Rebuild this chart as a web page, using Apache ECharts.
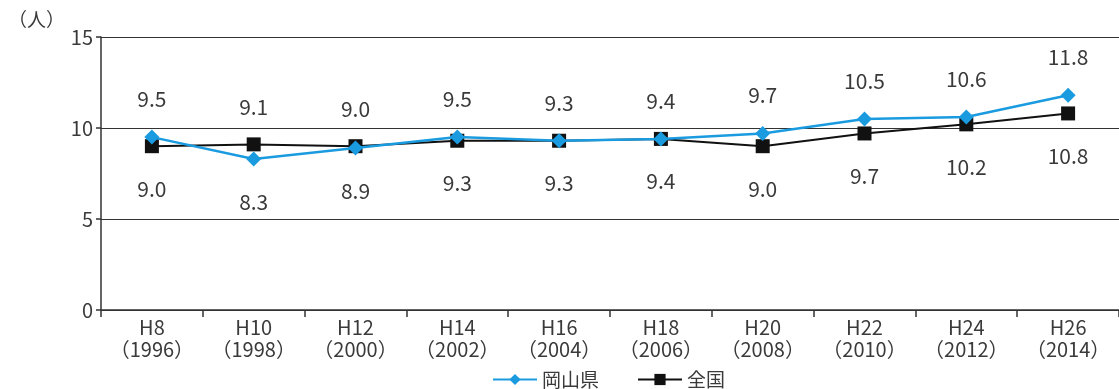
<!DOCTYPE html>
<html>
<head>
<meta charset="utf-8">
<script src="https://cdn.jsdelivr.net/npm/echarts@6/dist/echarts.min.js"></script>
<style>
  html, body { margin: 0; padding: 0; background: #fff; }
  #chart { width: 1119px; height: 389px; }
</style>
</head>
<body>
<div id="chart"></div>
<script>
// Era labels and Western years for each survey
const eras = ['H8', 'H10', 'H12', 'H14', 'H16', 'H18', 'H20', 'H22', 'H24', 'H26'];
const years = ['1996', '1998', '2000', '2002', '2004', '2006', '2008', '2010', '2012', '2014'];

// Values per survey year (人)
const okayama = [9.5, 8.3, 8.9, 9.5, 9.3, 9.4, 9.7, 10.5, 10.6, 11.8];
const national = [9.0, 9.1, 9.0, 9.3, 9.3, 9.4, 9.0, 9.7, 10.2, 10.8];

const yTicks = [0, 5, 10, 15];

const FONT = '"Noto Sans CJK JP", "Noto Sans", sans-serif';
const TEXT = '#3a3a3a';
const BLUE = '#1a9be0';
const BLACK = '#111111';

const categories = eras.map((e, i) => e + '\n（' + years[i] + '）');

// The higher value of each pair is labelled above its point, the lower below.
function withLabels(values, other, preferTop) {
  return values.map((v, i) => {
    const o = other[i];
    const top = v > o || (v === o && preferTop);
    return {
      value: v,
      label: {
        show: true,
        position: top ? 'top' : 'bottom',
        distance: top ? 20 : 25,
        formatter: (p) => p.value.toFixed(1),
        fontFamily: FONT,
        fontSize: 21,
        color: TEXT
      }
    };
  });
}

const chart = echarts.init(document.getElementById('chart'), null, { renderer: 'canvas' });

chart.setOption({
  animation: false,
  backgroundColor: '#fff',
  textStyle: { fontFamily: FONT },
  grid: { left: 101, top: 37, width: 1034, height: 273, containLabel: false },
  graphic: [{
    type: 'text',
    left: 8,
    top: 10,
    style: { text: '（人）', fontFamily: FONT, fontSize: 19, fill: TEXT }
  }],
  legend: {
    left: 487,
    top: 365,
    itemWidth: 44,
    itemHeight: 14,
    itemGap: 38,
    data: ['岡山県', '全国'],
    textStyle: { fontFamily: FONT, fontSize: 19, color: TEXT }
  },
  xAxis: {
    type: 'category',
    data: categories,
    boundaryGap: true,
    axisLine: { show: true, lineStyle: { color: '#333', width: 1.5 } },
    axisTick: { show: true, alignWithLabel: false, length: 7, lineStyle: { color: '#333', width: 1.5 } },
    axisLabel: {
      fontFamily: FONT,
      fontSize: 20,
      color: TEXT,
      lineHeight: 22,
      margin: 6,
      interval: 0
    },
    splitLine: { show: false }
  },
  yAxis: {
    type: 'value',
    min: yTicks[0],
    max: yTicks[yTicks.length - 1],
    interval: 5,
    axisLine: { show: true, lineStyle: { color: '#333', width: 1.5 } },
    axisTick: { show: true, length: 5, lineStyle: { color: '#333', width: 1.5 } },
    axisLabel: { fontFamily: FONT, fontSize: 20, color: TEXT, margin: 8 },
    splitLine: { show: true, lineStyle: { color: '#333', width: 1.2 } }
  },
  series: [
    {
      name: '全国',
      type: 'line',
      z: 2,
      data: withLabels(national, okayama, false),
      symbol: 'rect',
      symbolSize: 14,
      itemStyle: { color: BLACK },
      lineStyle: { color: BLACK, width: 2 }
    },
    {
      name: '岡山県',
      type: 'line',
      z: 3,
      data: withLabels(okayama, national, true),
      symbol: 'diamond',
      symbolSize: 15,
      itemStyle: { color: BLUE },
      lineStyle: { color: BLUE, width: 2.5 }
    }
  ]
});
</script>
</body>
</html>
